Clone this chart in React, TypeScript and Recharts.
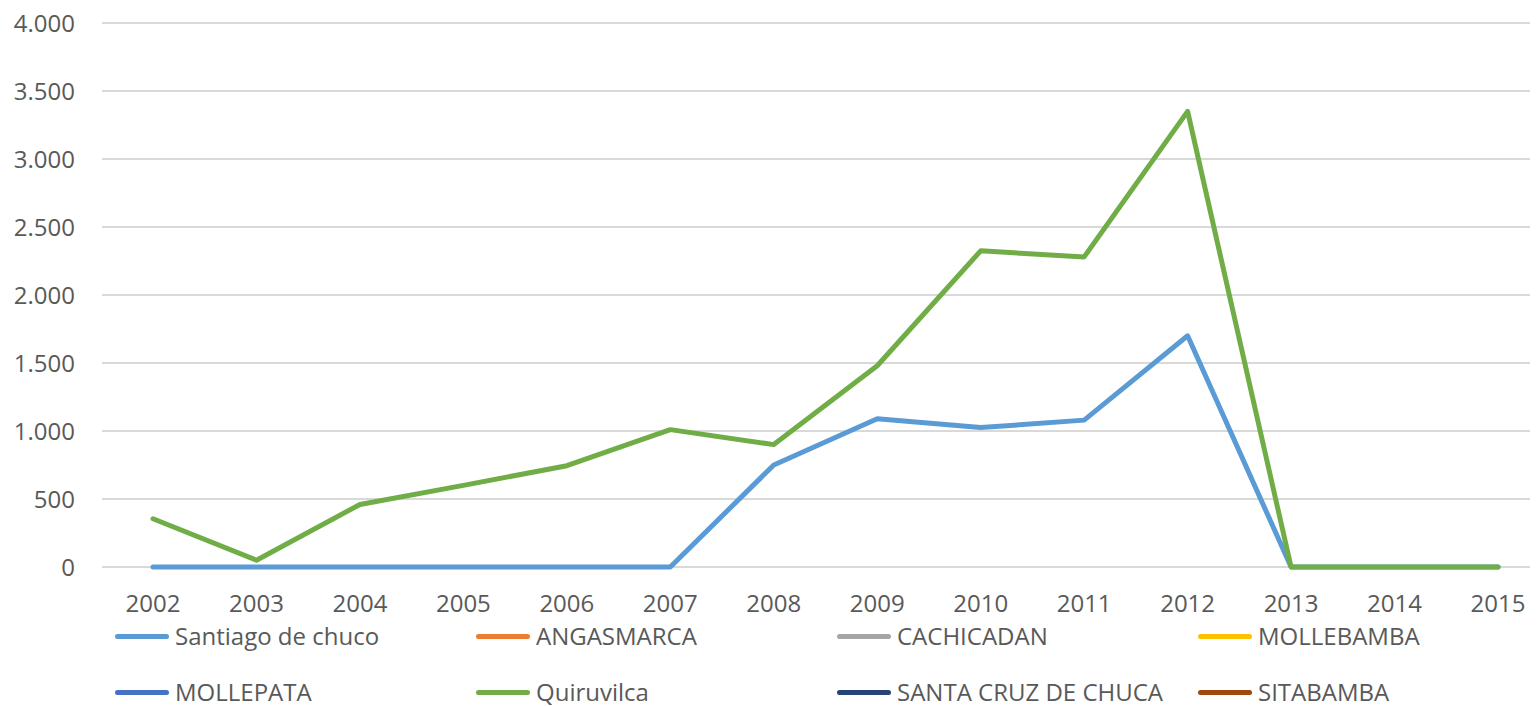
import { CartesianGrid, Line, LineChart, XAxis, YAxis } from 'recharts'

const years = ['2002', '2003', '2004', '2005', '2006', '2007', '2008', '2009', '2010', '2011', '2012', '2013', '2014', '2015']

const santiagoDeChuco = [0, 0, 0, 0, 0, 0, 750, 1090, 1025, 1080, 1700, 0, 0, 0]
const quiruvilca = [355, 50, 460, 600, 745, 1010, 900, 1480, 2325, 2280, 3350, 0, 0, 0]
const empty: (number | null)[] = years.map(() => null)

const yTicks = [0, 500, 1000, 1500, 2000, 2500, 3000, 3500, 4000]

const series = [
  { key: 'Santiago de chuco', color: '#5B9BD5', values: santiagoDeChuco },
  { key: 'ANGASMARCA', color: '#ED7D31', values: empty },
  { key: 'CACHICADAN', color: '#A5A5A5', values: empty },
  { key: 'MOLLEBAMBA', color: '#FFC000', values: empty },
  { key: 'MOLLEPATA', color: '#4472C4', values: empty },
  { key: 'Quiruvilca', color: '#70AD47', values: quiruvilca },
  { key: 'SANTA CRUZ DE CHUCA', color: '#264478', values: empty },
  { key: 'SITABAMBA', color: '#9E480E', values: empty },
]

const data = years.map((year, i) => {
  const row: Record<string, string | number | null> = { year }
  series.forEach((s) => {
    row[s.key] = s.values[i]
  })
  return row
})

const fmt = (v: number) => v.toLocaleString('de-DE')
const font = '"Open Sans", sans-serif'
const textColor = '#595959'

export default function App() {
  return (
    <div
      style={{
        position: 'relative',
        width: 1538,
        height: 706,
        margin: '-8px 0 0 -8px',
        background: '#fff',
        fontFamily: font,
        overflow: 'hidden',
      }}
    >
      <LineChart
        width={1538}
        height={706}
        data={data}
        margin={{ top: 23, right: 0, bottom: 99, left: 0 }}
      >
        <CartesianGrid vertical={false} stroke="#D9D9D9" strokeWidth={2} />
        <XAxis
          dataKey="year"
          height={40}
          padding={{ left: 51, right: 40 }}
          axisLine={false}
          tickLine={false}
          tickSize={0}
          tickMargin={28}
          interval={0}
          tick={{ fill: textColor, fontSize: 24, fontFamily: font }}
        />
        <YAxis
          width={102}
          domain={[0, 4000]}
          ticks={yTicks}
          tickFormatter={fmt}
          axisLine={false}
          tickLine={false}
          tickSize={0}
          tickMargin={27}
          tick={{ fill: textColor, fontSize: 24, fontFamily: font }}
        />
        {series.map((s) => (
          <Line
            key={s.key}
            dataKey={s.key}
            stroke={s.color}
            strokeWidth={5}
            strokeLinecap="round"
            strokeLinejoin="round"
            dot={false}
            isAnimationActive={false}
          />
        ))}
      </LineChart>
      {series.map((s, i) => {
        const col = i % 4
        const row = Math.floor(i / 4)
        return (
          <div
            key={s.key}
            style={{
              position: 'absolute',
              left: 115 + col * 361,
              top: 636 + row * 56 - 11,
              height: 22,
              lineHeight: '22px',
              display: 'flex',
              alignItems: 'center',
              color: textColor,
              fontSize: 24,
              whiteSpace: 'nowrap',
            }}
          >
            <span
              style={{
                display: 'inline-block',
                width: 54,
                height: 5,
                borderRadius: 3,
                background: s.color,
                marginRight: 6,
              }}
            />
            {s.key}
          </div>
        )
      })}
    </div>
  )
}
